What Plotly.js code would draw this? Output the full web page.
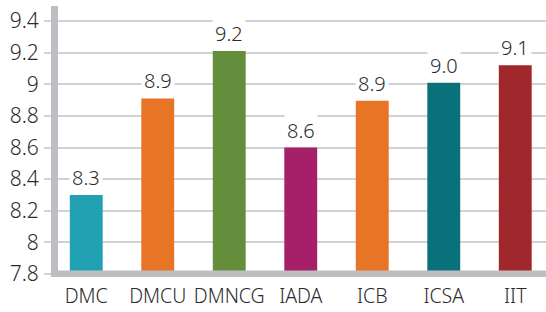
<!DOCTYPE html>
<html>
<head>
<meta charset="utf-8">
<script src="https://cdn.plot.ly/plotly-3.0.1.min.js"></script>
<style>html,body{margin:0;padding:0;background:#fff}#chart{width:546px;height:312px}</style>
</head>
<body>
<div id="chart"></div>
<script>
var categories = ["DMC", "DMCU", "DMNCG", "IADA", "ICB", "ICSA", "IIT"];
var values = [8.30, 8.91, 9.21, 8.60, 8.895, 9.01, 9.12];
var colors = ["#21a1b1", "#e87426", "#648e3c", "#a52068", "#e87426", "#0a717b", "#a0282c"];
var tickValues = [7.8, 8, 8.2, 8.4, 8.6, 8.8, 9, 9.2, 9.4];
var tickLabels = ["7.8", "8", "8.2", "8.4", "8.6", "8.8", "9", "9.2", "9.4"];

var FONT = "Noto Sans, Open Sans, sans-serif";
var TXT = "#2b2b2b";
var AXIS = "#bdbec1";
var GRID = "#d2d2d4";

function f(size) {
  return {family: FONT, size: size, color: TXT, weight: 300};
}

var trace = {
  type: "bar",
  x: categories,
  y: values,
  marker: {color: colors},
  hoverinfo: "none"
};

var annotations = categories.map(function (c, i) {
  return {
    x: c, y: values[i], xref: "x", yref: "y",
    text: values[i].toFixed(1),
    showarrow: false, yanchor: "bottom", yshift: 1,
    bgcolor: "#ffffff", borderpad: 2,
    font: f(20)
  };
});

var layout = {
  width: 546, height: 312,
  margin: {l: 58, r: 0, t: 6, b: 34.5},
  paper_bgcolor: "#ffffff", plot_bgcolor: "#ffffff",
  bargap: 0.54,
  showlegend: false,
  xaxis: {
    range: [-0.395, 6.43],
    showgrid: false, zeroline: false, showline: false,
    ticks: "", tickfont: f(19.5), ticklabelstandoff: 5,
    fixedrange: true
  },
  yaxis: {
    range: [7.781, 9.495],
    tickmode: "array", tickvals: tickValues, ticktext: tickLabels,
    showgrid: true, gridcolor: GRID, gridwidth: 2,
    zeroline: false,
    showline: true, linecolor: AXIS, linewidth: 7,
    ticks: "outside", ticklen: 7, tickwidth: 2, tickcolor: GRID,
    tickfont: f(21), ticklabelstandoff: 1,
    fixedrange: true
  },
  shapes: [{
    type: "line", xref: "paper", yref: "y",
    x0: -7 / 488, x1: 1, y0: 7.8, y1: 7.8,
    line: {color: AXIS, width: 7}, layer: "above"
  }],
  annotations: annotations
};

Plotly.newPlot("chart", [trace], layout, {displayModeBar: false, staticPlot: true});
</script>
</body>
</html>
